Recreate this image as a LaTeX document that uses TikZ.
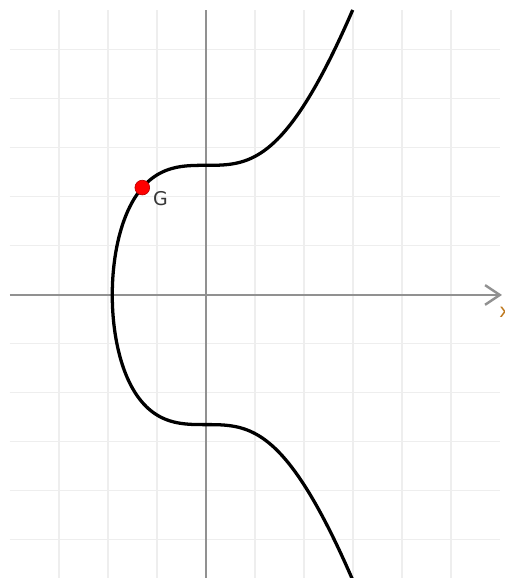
\documentclass[tikz,border=0pt]{standalone}
\usepackage{fontspec}
\setsansfont{DejaVu Sans}
\usetikzlibrary{arrows.meta, positioning}
\definecolor{gridcolor}{RGB}{238,238,238}
\definecolor{axiscolor}{RGB}{145,145,145}
\definecolor{labelcolor}{RGB}{190,120,30}
\definecolor{pointcolor}{RGB}{255,0,0}
\definecolor{textcolor}{RGB}{55,55,55}

\begin{document}
\begin{tikzpicture}[
    >={Straight Barb[length=3mm, width=4mm]},
    gridline/.style={gridcolor, line width=0.6pt},
    axis/.style={axiscolor, line width=1.4pt},
    curve/.style={black, line width=1.9pt, line join=round},
    pt/.style={circle, fill=pointcolor, draw=red!75!black, line width=0.4pt, inner sep=0pt, minimum size=3mm},
    every node/.style={font=\sffamily\fontsize{11}{13}\selectfont},
]
    \useasboundingbox[fill=white] (-4.204,-5.776) rectangle (6.082,6.020);

    % Grid
    \foreach \x in {-3,...,5}
        \draw[gridline] (\x,-5.8) -- (\x,5.82);
    \foreach \y in {-5,...,5}
        \draw[gridline] (-4,\y) -- (6,\y);

    % Axes
    \coordinate (xstart) at (-4,0);
    \coordinate (xend) at (6.04,0);
    \coordinate (ytop) at (0,5.82);
    \coordinate (ybottom) at (0,-5.8);
    \draw[axis, ->] (xstart) -- (xend);
    \draw[axis] (ybottom) -- (ytop);
    \node[labelcolor] (xlabel) at (6.1,-0.36) {x};

    % Curve y^2 = x^3 + 7
    \draw[curve]
        plot[domain=3.0:-1.6, samples=120, smooth, variable=\u] (\u, {-sqrt(\u*\u*\u+7)})
        -- plot[domain=-1.704:1.704, samples=80, smooth, variable=\t] ({-pow(7-\t*\t,1/3)}, \t)
        -- plot[domain=-1.6:2.994, samples=120, smooth, variable=\u] (\u, {sqrt(\u*\u*\u+7)});

    % Point G
    \node[pt] (g) at (-1.3,2.1916) {};
    \node[textcolor] (glabel) at (-0.93,1.96) {G};
\end{tikzpicture}
\end{document}
